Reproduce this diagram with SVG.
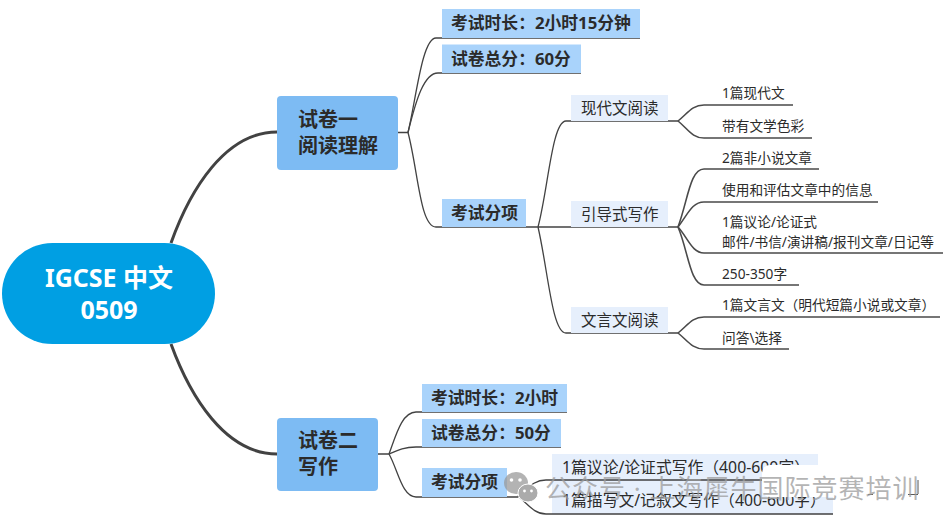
<svg xmlns="http://www.w3.org/2000/svg" width="950" height="527" viewBox="0 0 950 527">
<style>
text{font-family:"Noto Sans","Noto Sans CJK SC",sans-serif;fill:#2b2b2b}
.c0{fill:none;stroke:#424242;stroke-width:3}
.c1{fill:none;stroke:#424242;stroke-width:1.3}
.c2{fill:none;stroke:#4a4a4a;stroke-width:1.6}
.main{fill:#7dbbf3}
.sub{fill:#a9d3fb}
.lite{fill:#e6effc}
.t1{font-size:20px;font-weight:700}
.t2{font-size:16.800px;font-weight:700}
.t3{font-size:15.500px}
.t4{font-size:13.700px}
.t5{font-size:15.800px}
</style>
<rect width="950" height="527" fill="#fff"/>
<g id="connectors">
<path class="c0" d="M171 243C190 190 225 132 277 132"/>
<path class="c0" d="M171 344C190 396 225 454 277 454"/>
<path class="c1" d="M398 132.500H408C416 100 422 38 436 38H640"/>
<path class="c1" d="M408 132.500C416 100 424 73 438 73H581"/>
<path class="c1" d="M408 132.500C418 170 420 227 436 227H526"/>
<path class="c1" d="M526 227H538C548 190 552 121 566 121H678"/>
<path class="c1" d="M538 227H678"/>
<path class="c1" d="M538 227C548 270 552 333 566 333H678"/>
<path class="c2" d="M678 121C688 113 692 105 704 105H793"/>
<path class="c2" d="M678 121C688 129 692 138 704 138H812"/>
<path class="c2" d="M678 227C688 200 690 169 704 169H819"/>
<path class="c2" d="M678 227C688 214 692 202 704 202H878"/>
<path class="c2" d="M678 227C688 238 692 253 704 253H943"/>
<path class="c2" d="M678 227C688 250 690 285 704 285H799"/>
<path class="c2" d="M678 333C688 325 692 317 704 317H940"/>
<path class="c2" d="M678 333C688 341 692 349 704 349H789"/>
<path class="c1" d="M378 454H389C396 435 402 412 416 412H567"/>
<path class="c1" d="M389 454C398 450 404 447 416 447H561"/>
<path class="c1" d="M389 454C398 470 402 497 416 497H507H518"/>
</g>
<g id="root"><rect x="2" y="243" width="213" height="101" rx="50.500" fill="#009fe3"/>
<text x="109" y="287" text-anchor="middle" font-size="25" font-weight="700" style="fill:#fff">IGCSE 中文</text>
<text x="109" y="319" text-anchor="middle" font-size="25" font-weight="700" style="fill:#fff">0509</text></g>
<g id="paper1"><rect class="main" x="277" y="96" width="121" height="74" rx="4"/>
<text class="t1" x="298" y="127">试卷一</text><text class="t1" x="298" y="153">阅读理解</text></g>
<g id="p1-time"><rect class="sub" x="442" y="9" width="198" height="29"/><text class="t2" x="451" y="29">考试时长：2小时15分钟</text></g>
<g id="p1-score"><rect class="sub" x="442" y="44.500" width="139" height="28.500"/><text class="t2" x="451" y="65">试卷总分：60分</text></g>
<g id="p1-items"><rect class="sub" x="442" y="199" width="84" height="28"/><text class="t2" x="451" y="219">考试分项</text></g>
<g id="modern"><rect class="lite" x="571" y="95" width="97" height="26"/><text class="t3" x="581" y="114">现代文阅读</text></g>
<g id="guided"><rect class="lite" x="571" y="201" width="97" height="26"/><text class="t3" x="581" y="220">引导式写作</text></g>
<g id="classical"><rect class="lite" x="571" y="307" width="97" height="26"/><text class="t3" x="581" y="326">文言文阅读</text></g>
<g id="leaf1"><text class="t4" x="722" y="98">1篇现代文</text></g>
<g id="leaf2"><text class="t4" x="722" y="131">带有文学色彩</text></g>
<g id="leaf3"><text class="t4" x="722" y="163">2篇非小说文章</text></g>
<g id="leaf4"><text class="t4" x="722" y="195">使用和评估文章中的信息</text></g>
<g id="leaf5"><text class="t4" x="722" y="227">1篇议论/论证式</text><text class="t4" x="722" y="247">邮件/书信/演讲稿/报刊文章/日记等</text></g>
<g id="leaf6"><text class="t4" x="722" y="279">250-350字</text></g>
<g id="leaf7"><text class="t4" x="722" y="310">1篇文言文（明代短篇小说或文章）</text></g>
<g id="leaf8"><text class="t4" x="722" y="343">问答\选择</text></g>
<g id="paper2"><rect class="main" x="277" y="418" width="101" height="73" rx="4"/>
<text class="t1" x="298" y="448">试卷二</text><text class="t1" x="298" y="474">写作</text></g>
<g id="p2-time"><rect class="sub" x="422" y="384" width="145" height="28"/><text class="t2" x="431" y="404">考试时长：2小时</text></g>
<g id="p2-score"><rect class="sub" x="422" y="419" width="139" height="28"/><text class="t2" x="431" y="439">试卷总分：50分</text></g>
<g id="p2-items"><rect class="sub" x="422" y="468" width="85" height="29"/><text class="t2" x="431" y="488">考试分项</text></g>
<g id="w1"><rect class="lite" x="552" y="454" width="266" height="27"/><text class="t5" x="562" y="473">1篇议论/论证式写作（400-600字）</text></g>
<g id="w2"><rect class="lite" x="552" y="481" width="281" height="33"/><text class="t5" x="562" y="506">1篇描写文/记叙文写作（400-600字）</text></g>
<path class="c1" d="M518 496C528 488 534 480 546 480H763"/>
<path class="c1" d="M518 496C528 504 534 514 546 514H833"/>
<g id="watermark">
<rect x="762" y="465" width="164" height="32" rx="8" fill="#fff"/>
<path d="M868 494.500h5M908 494.500h10M918 480v14" fill="none" stroke="#555" stroke-width="1"/>
<ellipse cx="516" cy="483" rx="12" ry="11" fill="#9a9a9a" opacity=".75"/>
<circle cx="511.500" cy="480" r="1.800" fill="#fff"/><circle cx="520" cy="480" r="1.800" fill="#fff"/>
<ellipse cx="528" cy="493" rx="10" ry="9" fill="#ababab" stroke="#fff"/>
<circle cx="524.500" cy="491" r="1.400" fill="#fff"/><circle cx="531.500" cy="491" r="1.400" fill="#fff"/>
<text x="545" y="498" font-size="26" letter-spacing="1" style="fill:#9c9c9c;fill-opacity:.75">公众号 · 上海犀牛国际竞赛培训</text>
</g>
</svg>
